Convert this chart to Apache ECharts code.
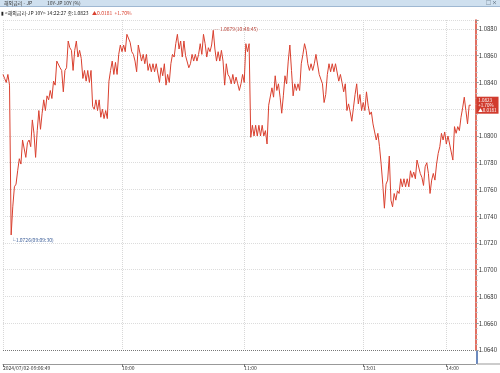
<!DOCTYPE html>
<html>
<head>
<meta charset="utf-8">
<script src="https://cdn.jsdelivr.net/npm/echarts@6/dist/echarts.min.js"></script>
<style>
  html, body { margin: 0; padding: 0; background: #fff; }
  #chart { width: 500px; height: 373px; }
</style>
</head>
<body>
<div id="chart"></div>
<script>
  // 10Y JP yield, intraday ticks
  const segMorning1 = [
    1.0846, 1.0843, 1.0840, 1.0846, 1.0838, 1.0726, 1.0747, 1.0762, 1.0764, 1.0774,
    1.0783, 1.0779, 1.0797, 1.0797, 1.0784, 1.0795, 1.0797, 1.0792, 1.0812, 1.0802,
    1.0784, 1.0804, 1.0819, 1.0805, 1.0817, 1.0827, 1.0819, 1.0830, 1.0827, 1.0834,
    1.0828, 1.0841, 1.0838, 1.0856, 1.0857, 1.0851, 1.0849, 1.0833, 1.0849, 1.0851,
    1.0871, 1.0866, 1.0864, 1.0849, 1.0864, 1.0871, 1.0859, 1.0864, 1.0858, 1.0843,
    1.0849, 1.0841, 1.0849, 1.0840, 1.0849, 1.0822, 1.0820, 1.0827, 1.0819, 1.0827,
    1.0814, 1.0820, 1.0813, 1.0819, 1.0813, 1.0841, 1.0849, 1.0856, 1.0846, 1.0855,
    1.0846, 1.0861, 1.0868, 1.0863, 1.0868, 1.0863, 1.0876, 1.0876, 1.0870, 1.0863,
    1.0861, 1.0856, 1.0848, 1.0868, 1.0868, 1.0856, 1.0861, 1.0854, 1.0861, 1.0849,
    1.0854, 1.0848, 1.0854, 1.0848, 1.0854, 1.0854, 1.0840, 1.0851, 1.0845, 1.0854,
    1.0838, 1.0846
  ];
  const segMorning2 = [
    1.0840, 1.0854, 1.0861, 1.0859, 1.0869, 1.0876, 1.0865, 1.0871, 1.0859, 1.0871,
    1.0860, 1.0859, 1.0851, 1.0854, 1.0861, 1.0856, 1.0861, 1.0856, 1.0861, 1.0869,
    1.0861, 1.0876, 1.0869, 1.0859, 1.0866, 1.0863, 1.0868, 1.0879, 1.0865, 1.0856,
    1.0863, 1.0856, 1.0864, 1.0856, 1.0838, 1.0854, 1.0846, 1.0844, 1.0839, 1.0846,
    1.0839, 1.0844, 1.0839, 1.0834, 1.0839, 1.0846, 1.0840, 1.0869, 1.0863, 1.0869,
    1.0799, 1.0808, 1.0800, 1.0808, 1.0800, 1.0808, 1.0800, 1.0808, 1.0800, 1.0804,
    1.0794, 1.0823, 1.0823, 1.0836, 1.0829, 1.0845, 1.0834, 1.0839, 1.0829, 1.0817,
    1.0830, 1.0845, 1.0839, 1.0856, 1.0868, 1.0849, 1.0830, 1.0839, 1.0834, 1.0839,
    1.0834, 1.0854, 1.0861, 1.0869, 1.0864, 1.0854, 1.0849, 1.0854, 1.0849, 1.0854,
    1.0861, 1.0861, 1.0846, 1.0845, 1.0839, 1.0825
  ];
  const segAfternoon = [
    1.0831, 1.0846, 1.0854, 1.0848, 1.0854, 1.0848, 1.0854, 1.0854, 1.0841, 1.0846,
    1.0840, 1.0833, 1.0839, 1.0819, 1.0824, 1.0818, 1.0811, 1.0821, 1.0831, 1.0839,
    1.0824, 1.0831, 1.0819, 1.0825, 1.0819, 1.0833, 1.0823, 1.0816, 1.0818, 1.0809,
    1.0803, 1.0797, 1.0802, 1.0792, 1.0779, 1.0764, 1.0746, 1.0764, 1.0767, 1.0785,
    1.0752, 1.0747,
    1.0757, 1.0752, 1.0759, 1.0757, 1.0768, 1.0762, 1.0768, 1.0762, 1.0768, 1.0762,
    1.0774, 1.0769, 1.0773, 1.0768, 1.0782, 1.0783, 1.0772, 1.0769, 1.0763, 1.0777,
    1.0780, 1.0772, 1.0757, 1.0767, 1.0772, 1.0767, 1.0779, 1.0787, 1.0792, 1.0802,
    1.0797, 1.0803, 1.0794, 1.0800, 1.0794, 1.0788, 1.0782, 1.0807, 1.0802, 1.0807,
    1.0804, 1.0814, 1.0821, 1.0829, 1.0819, 1.0809, 1.0823, 1.0823
  ];
  const values = segMorning1.concat(segMorning2, segAfternoon);

  const tickLabels = ["2024/07/02-09:06:49", "10:00", "11:00", "13:01", "14:00"];
  const tickIndex = [0, 73, 148, 221, 272];

  const minTime = "09:09:30";
  const maxTime = "10:48:45";
  const lastTime = "14:22:27";
  const lastClose = "1.0823";
  const lastChange = "▲0.0181";
  const lastPct = "+1.70%";

  const yMin = 1.0640, yMax = 1.08867, yStep = 0.002;

  const FONT = '"Noto Sans CJK KR", "DejaVu Sans", sans-serif';
  const LINE = "#d9402f";

  const xLabels = values.map((_, i) => {
    const k = tickIndex.indexOf(i);
    return k >= 0 ? tickLabels[k] : "";
  });
  const isTick = (i) => tickIndex.indexOf(i) >= 0;

  const splitColors = Array.from({ length: 14 }, (_, i) => (i === 0 ? "#777" : "#dcdcdc"));

  const chart = echarts.init(document.getElementById("chart"));
  chart.setOption({
    animation: false,
    textStyle: { fontFamily: FONT },
    grid: { left: 0, right: 23, top: 20, bottom: 23 },
    graphic: [
      { type: "rect", shape: { x: 0, y: 0, width: 500, height: 6 }, style: { fill: "#cfe0ef" } },
      { type: "line", shape: { x1: 0, y1: 6.5, x2: 500, y2: 6.5 }, style: { stroke: "#9fb8d2", lineWidth: 1 } },
      { type: "text", x: 4, y: 0.5, style: { text: "해외금리 - JP", font: "5px " + FONT, fill: "#333" } },
      { type: "text", x: 47, y: 0.5, style: { text: "10Y-JP 10Y (%)", font: "5px " + FONT, fill: "#333" } },
      { type: "text", x: 486, y: 0, style: { text: "□ ×", font: "5px " + FONT, fill: "#345" } },
      {
        type: "text", x: 1, y: 7.5,
        style: {
          text: "{k|▮ <해외금리-JP 10Y> " + lastTime + " 종:" + lastClose + "} {r|" + lastChange + "  " + lastPct + "}",
          rich: {
            k: { fontSize: 5, fontFamily: FONT, fill: "#222" },
            r: { fontSize: 5, fontFamily: FONT, fill: "#d9402f" }
          }
        }
      },
      { type: "line", shape: { x1: 477, y1: 350, x2: 477, y2: 364 }, style: { stroke: "#3b63a8", lineWidth: 1.5 } },
      { type: "line", shape: { x1: 477, y1: 364, x2: 500, y2: 364 }, style: { stroke: "#999", lineWidth: 1 } }
    ],
    xAxis: {
      type: "category",
      data: xLabels,
      boundaryGap: false,
      max: values.length + 2,
      offset: 14,
      axisLine: { lineStyle: { color: "#999" } },
      axisTick: { show: true, interval: isTick, length: 3, lineStyle: { color: "#777" } },
      axisLabel: { interval: isTick, fontSize: 5, color: "#333", align: "left", margin: 2, fontFamily: FONT },
      splitLine: { show: true, interval: isTick, lineStyle: { type: "dotted", color: "#d8d8d8" } }
    },
    yAxis: {
      type: "value",
      position: "right",
      min: yMin,
      max: yMax,
      interval: yStep,
      axisLine: { show: true, lineStyle: { color: LINE, width: 1.5 } },
      axisTick: { show: true, length: 3, lineStyle: { color: "#999" } },
      minorTick: { show: true, splitNumber: 5, length: 2, lineStyle: { color: "#bbb" } },
      axisLabel: {
        fontSize: 6, color: "#333", margin: 3, fontFamily: FONT, showMaxLabel: false,
        formatter: (v) => v.toFixed(4)
      },
      splitLine: { show: true, lineStyle: { type: "dotted", color: splitColors } }
    },
    series: [{
      type: "line",
      data: values,
      symbol: "none",
      lineStyle: { color: LINE, width: 1 },
      markPoint: {
        symbol: "circle",
        symbolSize: 1,
        itemStyle: { color: "rgba(0,0,0,0)" },
        data: [
          {
            type: "min",
            label: {
              position: [0, 3], fontSize: 5, color: "#3d5f99", fontFamily: FONT,
              formatter: (p) => "└" + p.value.toFixed(4) + "(" + minTime + ")"
            }
          },
          {
            type: "max",
            label: {
              position: [1, -3], fontSize: 5, color: "#b8453a", fontFamily: FONT,
              formatter: (p) => "─ " + p.value.toFixed(4) + "(" + maxTime + ")"
            }
          },
          {
            coord: [values.length - 1, values[values.length - 1]],
            label: {
              position: [6, -8], fontSize: 4.5, lineHeight: 5, color: "#fff", fontFamily: FONT,
              backgroundColor: "#d13b2e", padding: [1, 2],
              formatter: () => lastClose + "\n" + lastPct + "\n" + lastChange
            }
          }
        ]
      }
    }]
  });
</script>
</body>
</html>
